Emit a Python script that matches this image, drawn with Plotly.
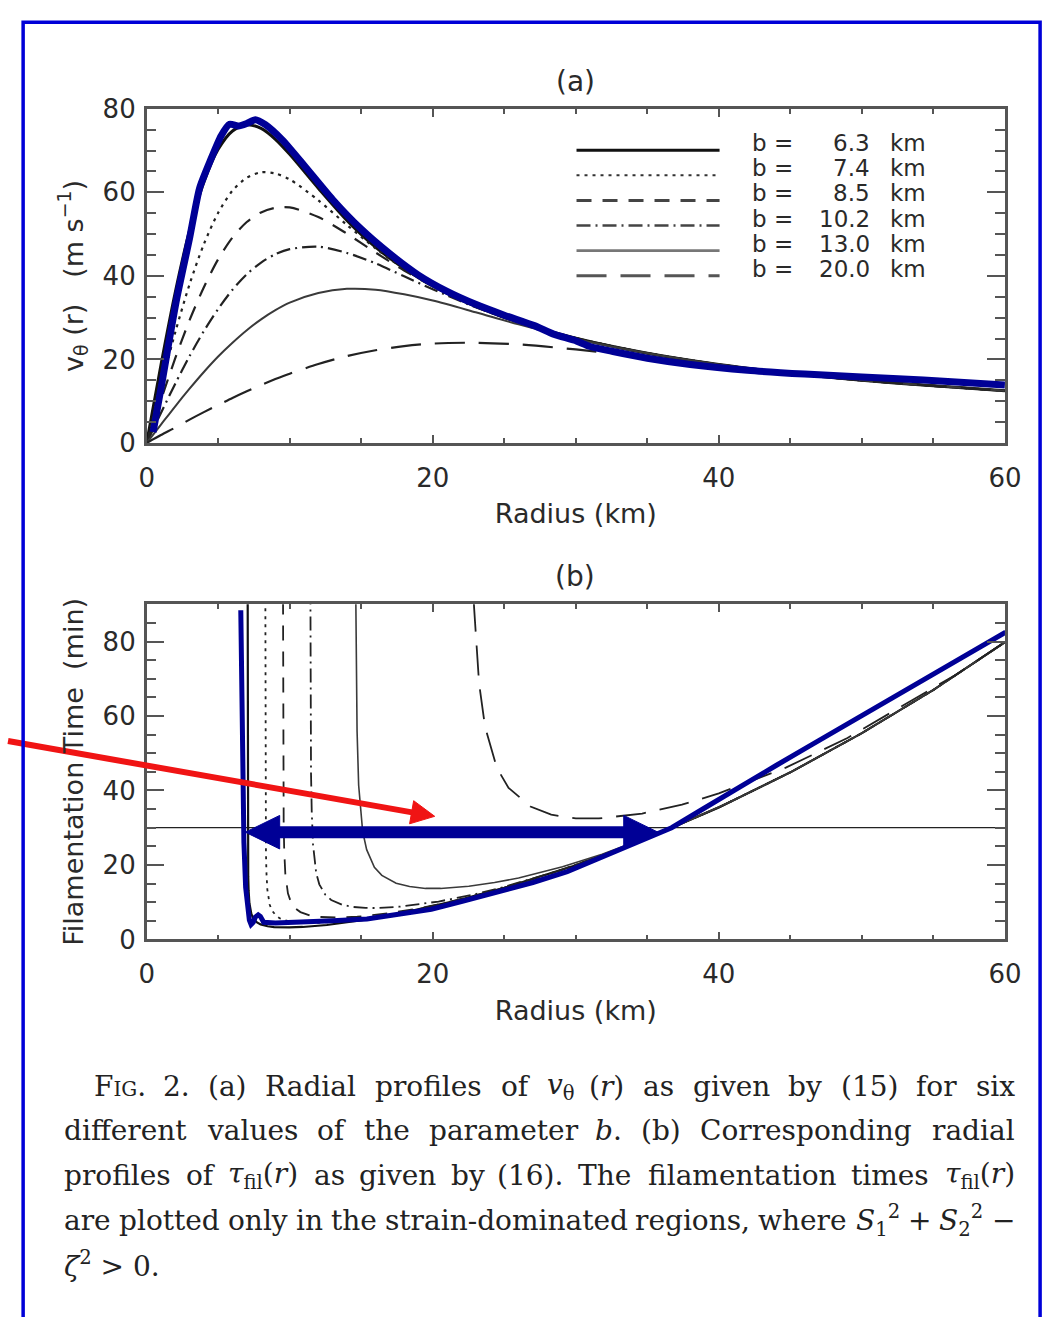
import re
import plotly.graph_objects as go

W, H = 1061, 1317

# ---------------- data: panel (a)  v_theta(r) ----------------
b_labels = ["6.3", "7.4", "8.5", "10.2", "13.0", "20.0"]
radius_a = [0, 1, 2, 3, 4, 5, 6, 7, 8, 9, 10, 12, 14, 16, 18, 20, 23, 26, 30, 35, 40, 45, 50, 55, 60]
v_b63 = [0, 18.7, 36.1, 50.9, 62.4, 70.3, 74.7, 76.2, 75.3, 72.7, 69.1, 61.0, 53.3, 46.9, 41.8, 37.6, 32.7, 28.9, 25.1, 21.5, 18.8, 16.7, 15.0, 13.7, 12.5]
v_b74 = [0, 13.6, 26.5, 38.0, 47.6, 55.1, 60.4, 63.5, 64.8, 64.5, 63.1, 58.1, 52.2, 46.6, 41.7, 37.6, 32.7, 28.9, 25.1, 21.5, 18.8, 16.7, 15.0, 13.7, 12.5]
v_b85 = [0, 10.3, 20.3, 29.4, 37.3, 44.0, 49.2, 52.9, 55.2, 56.3, 56.4, 54.1, 50.1, 45.6, 41.3, 37.5, 32.7, 28.9, 25.1, 21.5, 18.8, 16.7, 15.0, 13.7, 12.5]
v_b102 = [0, 7.2, 14.2, 20.8, 26.8, 32.1, 36.7, 40.4, 43.2, 45.2, 46.4, 47.0, 45.5, 43.0, 39.9, 36.8, 32.5, 28.9, 25.1, 21.5, 18.8, 16.7, 15.0, 13.7, 12.5]
v_b130 = [0, 4.4, 8.8, 13.0, 17.0, 20.7, 24.0, 27.0, 29.6, 31.8, 33.6, 35.9, 36.9, 36.7, 35.6, 34.1, 31.3, 28.4, 24.9, 21.5, 18.8, 16.7, 15.0, 13.7, 12.5]
v_b200 = [0, 1.9, 3.7, 5.6, 7.4, 9.1, 10.8, 12.4, 13.9, 15.3, 16.6, 18.9, 20.8, 22.2, 23.2, 23.8, 24.0, 23.6, 22.4, 20.5, 18.5, 16.6, 15.0, 13.7, 12.5]

# hand-drawn highlight over panel (a)
blue_a_r = [0.45, 1.0, 1.5, 2.1, 3.0, 3.7, 4.5, 5.2, 5.8, 6.4, 7.0, 7.6, 8.3, 9.5, 11, 13, 15, 17, 19, 21, 23, 25, 27.1, 28.5, 29.9, 31, 32.6, 35, 38, 42, 46, 50, 54.3, 60]
blue_a_v = [2.6, 13, 23, 34.5, 49, 61, 68, 73.5, 76.3, 75.9, 76.5, 77.4, 76.2, 72.5, 66.5, 58.3, 51.2, 45.3, 40.2, 36.3, 33.2, 30.6, 28.1, 26.0, 24.6, 23.1, 21.9, 20.3, 18.8, 17.4, 16.5, 15.8, 15.1, 13.9]

# ---------------- data: panel (b)  tau_fil(r) ----------------
r_t63 = [7.063, 7.066, 7.072, 7.100, 7.128, 7.183, 7.320, 7.454, 7.716, 7.969, 8.452, 8.910, 9.961, 10.91, 12.6, 14.09, 15.43, 17.82, 19.92, 21.82, 25, 30, 35, 40, 45, 50, 55, 60]
t63 = [91.8, 50.1, 33.2, 17.0, 13.1, 9.73, 6.82, 5.66, 4.56, 4.04, 3.54, 3.33, 3.22, 3.35, 3.88, 4.59, 5.37, 7.06, 8.80, 10.55, 13.85, 19.94, 27.15, 35.46, 44.87, 55.4, 67.0, 79.8]
r_t74 = [8.2975, 8.3065, 8.339, 8.372, 8.437, 8.598, 8.756, 9.063, 9.36, 9.928, 10.47, 11.70, 12.82, 14.8, 16.55, 18.13, 20.93, 23.4, 25.63, 30, 35, 40, 45, 50, 55, 60]
t74 = [93.2, 45.9, 23.5, 18.1, 13.4, 9.40, 7.80, 6.30, 5.57, 4.88, 4.59, 4.44, 4.63, 5.36, 6.33, 7.41, 9.74, 12.14, 14.56, 19.94, 27.15, 35.46, 44.87, 55.4, 67.0, 79.8]
r_t85 = [9.534, 9.541, 9.579, 9.617, 9.692, 9.876, 10.06, 10.41, 10.75, 11.40, 12.02, 13.44, 14.72, 17.0, 19.01, 20.82, 24.04, 26.88, 29.44, 35, 40, 45, 50, 55, 60]
t85 = [91.3, 60.5, 31.0, 23.9, 17.7, 12.4, 10.3, 8.31, 7.35, 6.44, 6.05, 5.86, 6.10, 7.07, 8.35, 9.78, 12.85, 16.02, 19.2, 27.15, 35.46, 44.87, 55.4, 67.0, 79.8]
r_t102 = [11.447, 11.45, 11.49, 11.54, 11.63, 11.85, 12.07, 12.49, 12.90, 13.68, 14.43, 15.3, 16.13, 17.67, 19.08, 20.4, 22.81, 24.98, 28.85, 32.26, 35, 40, 45, 50, 55, 60]
t102 = [93.7, 87.2, 44.7, 34.4, 25.5, 17.9, 14.8, 12.0, 10.6, 9.28, 8.72, 8.46, 8.44, 8.79, 9.41, 10.18, 12.0, 14.1, 18.5, 23.07, 27.15, 35.46, 44.87, 55.4, 67.0, 79.8]
r_t130 = [14.62, 14.65, 14.71, 14.82, 15.10, 15.38, 15.92, 16.44, 17.44, 18.38, 19.5, 20.55, 22.52, 24.32, 26.0, 29.07, 31.84, 36.77, 41.11, 45, 50, 55, 60]
t130 = [92.0, 72.6, 55.9, 41.4, 29.0, 24.1, 19.4, 17.2, 15.1, 14.2, 13.7, 13.7, 14.3, 15.3, 16.5, 19.5, 22.9, 30.0, 37.5, 44.87, 55.4, 67.0, 79.8]
r_t200 = [22.87, 22.89, 23.24, 23.66, 24.49, 25.30, 26.83, 28.28, 30.0, 31.62, 34.64, 37.42, 40.0, 44.72, 48.99, 56.57, 60]
t200 = [90.7, 89.1, 68.7, 57.0, 46.0, 40.7, 35.7, 33.5, 32.5, 32.5, 33.8, 36.2, 39.2, 46.2, 54.1, 71.1, 79.9]

# hand-drawn highlight over panel (b)
blue_b_r = [6.58, 6.64, 6.70, 6.80, 6.92, 7.04, 7.18, 7.30, 7.45, 7.6, 7.8, 7.95, 8.18, 9.0, 10.8, 13.0, 15.4, 17.5, 19.9, 22.0, 24.5, 27.0, 29.4, 32.0, 34.2, 36.7, 39.0, 41.6, 44.0, 46.5, 49.0, 51.4, 54.0, 56.3, 60.05]
blue_b_t = [88.4, 66, 43.6, 26, 14, 8.6, 5.2, 4.0, 4.6, 6.0, 6.6, 6.2, 4.6, 4.4, 4.6, 5.0, 5.5, 6.7, 8.1, 10.2, 12.7, 15.3, 18.2, 22.3, 26.1, 30.0, 35.3, 41.4, 46.7, 52.3, 57.8, 63.3, 69.1, 74.2, 82.5]

tau_threshold = 30
# double arrow (radius range where tau_fil < 30 min)
arrow_r_left, arrow_r_right, arrow_tau = 6.9, 35.75, 28.8

v_sets = [v_b63, v_b74, v_b85, v_b102, v_b130, v_b200]
t_sets = [(r_t63, t63), (r_t74, t74), (r_t85, t85), (r_t102, t102), (r_t130, t130), (r_t200, t200)]

# ---------------- styling ----------------
SANS = "DejaVu Sans"
SERIF = "DejaVu Serif"
TXT = "#2a2a2a"
AX = "#555555"
NAVY = "#000096"
FRAME = "#0000D8"
RED = "#F01414"

styles = [
    dict(color="#111111", wa=3.0, wb=2.2, dash="solid", lcolor="#111111", lw=3.0),
    dict(color="#222222", wa=2.2, wb=1.8, dash="3px,5px", lcolor="#333333", lw=2.0),
    dict(color="#222222", wa=2.2, wb=1.8, dash="15px,11px", lcolor="#444444", lw=3.0),
    dict(color="#222222", wa=2.2, wb=1.8, dash="14px,5px,2px,5px", lcolor="#444444", lw=2.6),
    dict(color="#3a3a3a", wa=2.0, wb=1.6, dash="solid", lcolor="#777777", lw=2.6),
    dict(color="#222222", wa=2.2, wb=1.8, dash="30px,14px", lcolor="#555555", lw=3.0),
]


def px(x):
    return x / W


def py(y):
    return 1 - y / H


X_DOM = [px(142), px(1021)]
YA_DOM = [py(438), py(96)]
YB_DOM = [py(946), py(603)]

fig = go.Figure()

for lab, v, st in zip(b_labels, v_sets, styles):
    fig.add_trace(go.Scatter(x=radius_a, y=v, mode="lines", name=f"b = {lab} km",
                             line=dict(color=st["color"], width=st["wa"], dash=st["dash"], shape="spline", smoothing=0.8),
                             xaxis="x", yaxis="y", showlegend=False, hoverinfo="skip"))
fig.add_trace(go.Scatter(x=blue_a_r, y=blue_a_v, mode="lines", line=dict(color=NAVY, width=7, shape="spline", smoothing=0.6),
                         xaxis="x", yaxis="y", showlegend=False, hoverinfo="skip"))

for lab, (rr, tt), st in zip(b_labels, t_sets, styles):
    fig.add_trace(go.Scatter(x=rr, y=tt, mode="lines", name=f"b = {lab} km",
                             line=dict(color=st["color"], width=st["wb"], dash=st["dash"]),
                             xaxis="x2", yaxis="y2", showlegend=False, hoverinfo="skip"))
fig.add_trace(go.Scatter(x=blue_b_r, y=blue_b_t, mode="lines", line=dict(color=NAVY, width=5),
                         xaxis="x2", yaxis="y2", showlegend=False, hoverinfo="skip"))


def xaxis(anchor):
    return dict(domain=X_DOM, range=[0, 60], anchor=anchor, tickmode="linear", tick0=0, dtick=20,
                ticks="inside", ticklen=8, tickwidth=2, tickcolor=AX,
                showline=True, linewidth=2.5, linecolor=AX, mirror="ticks",
                showgrid=False, zeroline=False,
                minor=dict(ticks="inside", dtick=5, ticklen=5, tickwidth=1.5, tickcolor=AX, showgrid=False),
                tickfont=dict(family=SANS, size=26, color=TXT), ticklabelstandoff=10,
                title=dict(text="Radius (km)", font=dict(family=SANS, size=27, color=TXT), standoff=13))


def yaxis(anchor, dom, rng, title):
    return dict(domain=dom, range=rng, anchor=anchor, tickmode="linear", tick0=0, dtick=20,
                ticks="inside", ticklen=18, tickwidth=2, tickcolor=AX,
                showline=True, linewidth=2.5, linecolor=AX, mirror="ticks",
                showgrid=False, zeroline=False,
                minor=dict(ticks="inside", dtick=5, ticklen=10, tickwidth=1.5, tickcolor=AX, showgrid=False),
                tickfont=dict(family=SANS, size=26, color=TXT), ticklabelstandoff=3,
                title=dict(text=title, font=dict(family=SANS, size=27, color=TXT), standoff=12))


NB = "\u00a0"
fig.update_layout(
    width=W, height=H, autosize=False,
    margin=dict(l=0, r=0, t=0, b=0),
    paper_bgcolor="white", plot_bgcolor="white",
    showlegend=False,
    xaxis=xaxis("y"),
    yaxis=yaxis("x", YA_DOM, [0, 80], f"v<sub>θ</sub>{NB}(r){NB}{NB}{NB}(m{NB}s<sup>−1</sup>)"),
    xaxis2=xaxis("y2"),
    yaxis2=yaxis("x2", YB_DOM, [0, 90], f"Filamentation{NB}Time{NB}{NB}(min)"),
)

annotations = []
shapes = []

# panel titles
for txt, yy in (("(a)", 68), ("(b)", 575)):
    annotations.append(dict(text=txt, x=px(581), y=py(yy), xref="paper", yref="paper", showarrow=False,
                            xanchor="center", yanchor="middle", font=dict(family=SANS, size=28, color=TXT)))

# legend (drawn inside panel a, in its data coordinates)
LEG_X0, LEG_X1 = 30.05, 40.05
LEG_TXT_X, LEG_NUM_X, LEG_KM_X = 42.15, 50.72, 51.8
for i, (lab, st) in enumerate(zip(b_labels, styles)):
    yl = 70.1 - 6.01 * i
    yt = 71.75 - 6.01 * i
    shapes.append(dict(type="line", xref="x", yref="y", x0=LEG_X0, x1=LEG_X1, y0=yl, y1=yl,
                       line=dict(color=st["lcolor"], width=st["lw"], dash=st["dash"])))
    for txt, xx, anc in (("b =", LEG_TXT_X, "left"), (lab, LEG_NUM_X, "right"), ("km", LEG_KM_X, "left")):
        annotations.append(dict(text=txt, x=xx, y=yt, xref="x", yref="y", showarrow=False,
                                xanchor=anc, yanchor="middle", font=dict(family=SANS, size=23, color=TXT)))

# threshold line in (b)
shapes.append(dict(type="line", xref="x2", yref="y2", x0=0, x1=60, y0=tau_threshold, y1=tau_threshold,
                   line=dict(color="#222222", width=1.3), layer="below"))

# blue double arrow
head_len = 2.4
head_half = 4.5
shapes.append(dict(type="line", xref="x2", yref="y2", x0=arrow_r_left + head_len - 0.2, x1=arrow_r_right - head_len + 0.2,
                   y0=arrow_tau, y1=arrow_tau, line=dict(color=NAVY, width=12)))
shapes.append(dict(type="path", xref="x2", yref="y2",
                   path=f"M {arrow_r_left},{arrow_tau} L {arrow_r_left + head_len},{arrow_tau + head_half} "
                        f"L {arrow_r_left + head_len},{arrow_tau - head_half} Z",
                   fillcolor=NAVY, line=dict(color=NAVY, width=1)))
shapes.append(dict(type="path", xref="x2", yref="y2",
                   path=f"M {arrow_r_right},{arrow_tau} L {arrow_r_right - head_len},{arrow_tau + head_half} "
                        f"L {arrow_r_right - head_len},{arrow_tau - head_half} Z",
                   fillcolor=NAVY, line=dict(color=NAVY, width=1)))

# red arrow (pixel geometry -> paper)
tipx, tipy = 437.0, 820.0
sx, sy = 0.0, 743.0
dx, dy = tipx - sx, tipy - sy
L = (dx * dx + dy * dy) ** 0.5
ux, uy = dx / L, dy / L
nx, ny = -uy, ux
hl, hw = 24.0, 12.0
bx, by = tipx - hl * ux, tipy - hl * uy
shapes.append(dict(type="line", xref="paper", yref="paper", x0=px(sx), y0=py(sy), x1=px(bx + 2 * ux), y1=py(by + 2 * uy),
                   line=dict(color=RED, width=6)))
shapes.append(dict(type="path", xref="paper", yref="paper",
                   path=f"M {px(tipx)},{py(tipy)} L {px(bx + hw * nx)},{py(by + hw * ny)} L {px(bx - hw * nx)},{py(by - hw * ny)} Z",
                   fillcolor=RED, line=dict(color=RED, width=1)))

# outer blue frame
shapes.append(dict(type="rect", xref="paper", yref="paper", x0=px(15.5), x1=px(1057), y0=py(1340), y1=py(7.5),
                   line=dict(color=FRAME, width=3.5), fillcolor="rgba(0,0,0,0)"))

# ---------------- caption (justified, word by word) ----------------
CAP_SIZE = 28
CH = {' ': .318, 'a': .596, 'b': .640, 'c': .560, 'd': .640, 'e': .592, 'f': .370, 'g': .640, 'h': .644,
      'i': .320, 'j': .310, 'k': .600, 'l': .320, 'm': .948, 'n': .644, 'o': .602, 'p': .640, 'q': .640,
      'r': .478, 's': .513, 't': .402, 'u': .644, 'v': .565, 'w': .856, 'x': .564, 'y': .565, 'z': .527,
      '(': .390, ')': .390, '.': .318, ',': .318, '-': .338, 'F': .683, 'I': .365, 'G': .775, 'C': .734,
      'T': .675, 'S': .685, 'R': .770, '+': .838, '−': .838, '>': .838, 'θ': .602, 'τ': .55, 'ζ': .5}
for d in "0123456789":
    CH[d] = .636


def est_width(markup, size):
    stack = [1.0]
    total = 0.0
    for tok in re.split(r"(<[^>]+>)", markup):
        if not tok:
            continue
        if tok.startswith("<"):
            t = tok.lower()
            if t in ("</sub>", "</sup>", "</span>"):
                stack.pop()
            elif t.startswith("<sub") or t.startswith("<sup"):
                stack.append(stack[-1] * 0.7)
            elif t.startswith("<span"):
                m = re.search(r"font-size:\s*(\d+)", t)
                stack.append(stack[-1] * (float(m.group(1)) / size if m else 1.0))
            continue
        for ch in tok:
            total += CH.get(ch, 0.6) * size * stack[-1]
    return total * 1.035


caption_lines = [
    ["F<span style='font-size:20px'>IG</span>.", "2.", "(a)", "Radial", "profiles", "of", "<i>v</i><sub>θ</sub>",
     "(<i>r</i>)", "as", "given", "by", "(15)", "for", "six"],
    ["different", "values", "of", "the", "parameter", "<i>b</i>.", "(b)", "Corresponding", "radial"],
    ["profiles", "of", "<i>τ</i><sub>fil</sub>(<i>r</i>)", "as", "given", "by", "(16).", "The", "filamentation",
     "times", "<i>τ</i><sub>fil</sub>(<i>r</i>)"],
    ["are", "plotted", "only", "in", "the", "strain-dominated", "regions,", "where", "<i>S</i><sub>1</sub><sup>2</sup>",
     "+", "<i>S</i><sub>2</sub><sup>2</sup>", "−"],
]
cap_left = [86, 55, 55, 55]
cap_right = 1033
cap_y = [1096, 1142, 1188, 1234]

for words, left, yy in zip(caption_lines, cap_left, cap_y):
    widths = [est_width(w, CAP_SIZE) for w in words]
    n = len(words)
    gap = (cap_right - left - sum(widths)) / (n - 1)
    for i, w in enumerate(words):
        if i < n / 2:
            xx = left + sum(widths[:i]) + gap * i
            anc = "left"
        else:
            xx = cap_right - sum(widths[i + 1:]) - gap * (n - 1 - i)
            anc = "right"
        annotations.append(dict(text=w, x=px(xx), y=py(yy), xref="paper", yref="paper",
                                showarrow=False, xanchor=anc, yanchor="middle",
                                font=dict(family=SERIF, size=CAP_SIZE, color="#222222")))

annotations.append(dict(text="<i>ζ</i><sup>2</sup> > 0.", x=px(55), y=py(1279), xref="paper", yref="paper",
                        showarrow=False, xanchor="left", yanchor="middle",
                        font=dict(family=SERIF, size=CAP_SIZE, color="#222222")))

fig.update_layout(annotations=annotations, shapes=shapes)
fig.write_html("out.html")
